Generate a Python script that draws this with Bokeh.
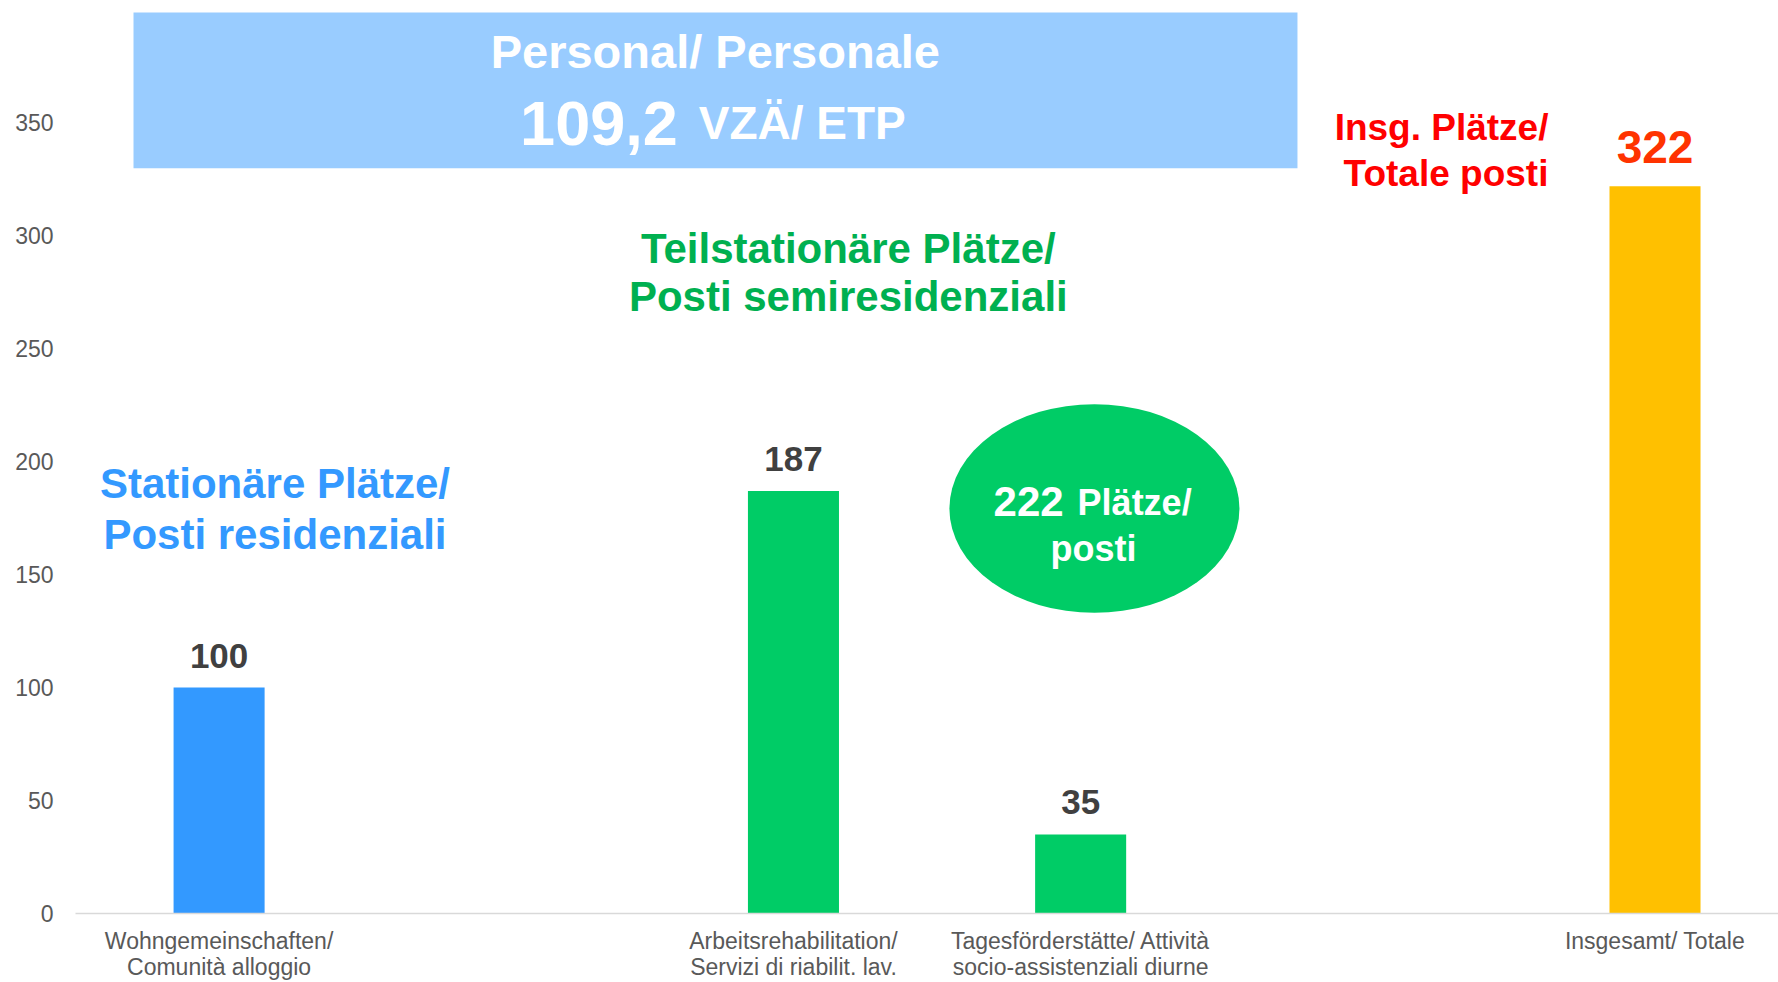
from bokeh.plotting import figure
from bokeh.models import Range1d, FixedTicker, BoxAnnotation, Label, LabelSet, ColumnDataSource
from bokeh.core.properties import value
from bokeh.embed import file_html
from bokeh.resources import INLINE

# ---- data ----
categories = [
    "Wohngemeinschaften/\nComunità alloggio",
    "Arbeitsrehabilitation/\nServizi di riabilit. lav.",
    "Tagesförderstätte/ Attività\nsocio-assistenziali diurne",
    "Insgesamt/ Totale",
]
values = [100, 187, 35, 322]
y_ticks = [0, 50, 100, 150, 200, 250, 300, 350]

# ---- layout (slot positions of the categories on the axis; slots 1 and 4 are empty) ----
slots = [0, 2, 3, 5]
bar_colors = ["#3399FF", "#00CC66", "#00CC66", "#FFC000"]
label_colors = ["#404040", "#404040", "#404040", "#FF3300"]
label_sizes = ["35px", "35px", "35px", "46px"]
label_gaps = [20, 20, 20, 23]

FONT = "Liberation Sans"

src = ColumnDataSource(dict(
    x=slots, value=values, label=[str(v) for v in values],
    color=bar_colors, lcolor=label_colors, lsize=label_sizes, lgap=label_gaps,
))

p = figure(width=1778, height=982,
           x_range=Range1d(-0.5, 5.430), y_range=Range1d(0, 404.2),
           output_backend="svg", toolbar_location=None,
           min_border_left=75, min_border_right=0, min_border_top=0, min_border_bottom=68)
p.outline_line_color = None
p.background_fill_color = "white"
p.border_fill_color = "white"
p.xgrid.visible = False
p.ygrid.visible = False

# header box (staff)
p.add_layout(BoxAnnotation(left=-0.298, right=3.755, bottom=329.9, top=398.9,
                           fill_color="#99CCFF", fill_alpha=1.0, line_color=None, level="underlay"))

# bars
p.vbar(x="x", top="value", width=0.317, fill_color="color", line_color=None, source=src)

# ellipse
p.ellipse(x=[3.048], y=[179.3], width=1.01, height=92.4, fill_color="#00CC66", line_color=None)

# value labels
p.add_layout(LabelSet(x="x", y="value", text="label", source=src, y_offset="lgap",
                      text_color="lcolor", text_font_size="lsize", text_font=value(FONT),
                      text_font_style="bold", text_align="center", text_baseline="alphabetic"))

def lab(x, y, text, size, color, align="center", xo=0, yo=0):
    p.add_layout(Label(x=x, y=y, text=text, text_font=FONT, text_font_size=f"{size}px",
                       text_font_style="bold", text_color=color, text_align=align,
                       text_baseline="alphabetic", x_offset=xo, y_offset=yo))

# staff header
lab(1.728, 373.7, "Personal/ Personale", 47, "white", yo=18)
lab(1.632, 341.5, "109,2", 63, "white", align="right", xo=-10, yo=19)
lab(1.632, 341.5, "VZÄ/ ETP", 46, "white", align="left", xo=11, yo=19)

# group headers
lab(0.1946, 183.8, "Stationäre Plätze/", 42, "#3399FF", yo=15)
lab(0.1946, 161.0, "Posti residenziali", 42, "#3399FF", yo=15)
lab(2.191, 287.7, "Teilstationäre Plätze/", 42, "#00B050", yo=15)
lab(2.191, 266.3, "Posti semiresidenziali", 42, "#00B050", yo=15)
lab(4.629, 341.8, "Insg. Plätze/", 37, "#FF0000", align="right", yo=14)
lab(4.629, 321.6, "Totale posti", 37, "#FF0000", align="right", yo=14)

# ellipse text
lab(2.965, 175.7, "222", 42, "white", align="right", xo=-7, yo=15)
lab(2.965, 175.7, "Plätze/", 36, "white", align="left", xo=7, yo=14)
lab(3.045, 155.3, "posti", 36, "white", yo=14)

# axes
xa = p.xaxis[0]
xa.ticker = FixedTicker(ticks=slots)
xa.major_label_overrides = {s: c for s, c in zip(slots, categories)}
xa.axis_line_color = "#d9d9d9"
xa.axis_line_width = 1.5
xa.major_tick_line_color = None
xa.minor_tick_line_color = None
xa.major_tick_out = 0
xa.major_label_text_font = FONT
xa.major_label_text_font_size = "23px"
xa.major_label_text_color = "#595959"
xa.major_label_text_line_height = 1.0
xa.major_label_standoff = 14

ya = p.yaxis[0]
ya.ticker = FixedTicker(ticks=y_ticks)
ya.axis_line_color = None
ya.major_tick_line_color = None
ya.minor_tick_line_color = None
ya.major_tick_out = 0
ya.major_label_standoff = 22
ya.major_label_text_font = FONT
ya.major_label_text_font_size = "23px"
ya.major_label_text_color = "#595959"

open("out.html", "w").write(file_html(p, INLINE))
